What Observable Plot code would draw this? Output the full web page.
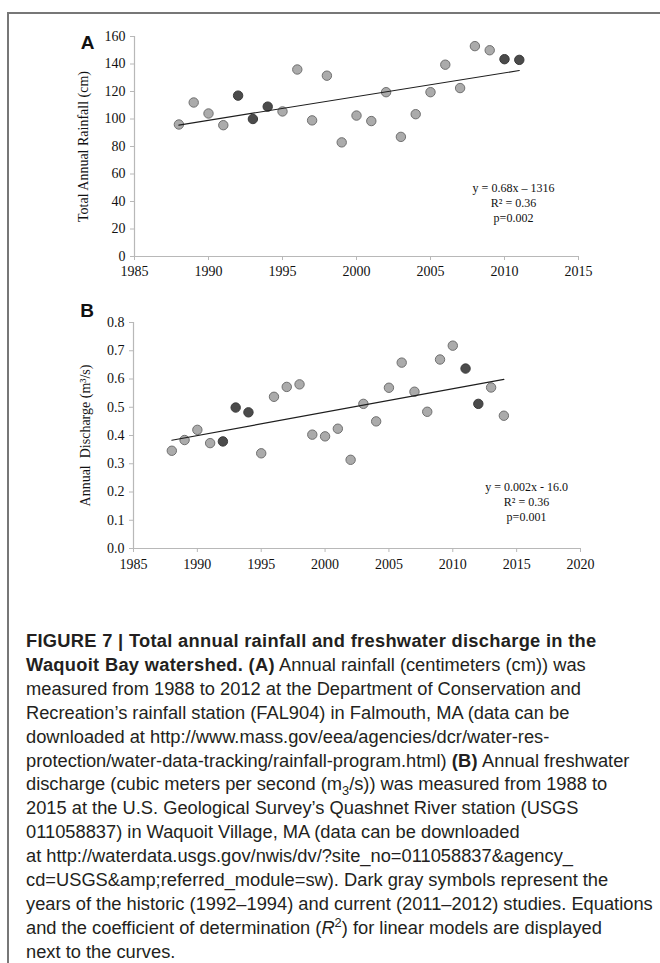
<!DOCTYPE html>
<html>
<head>
<meta charset="utf-8">
<script src="https://cdn.jsdelivr.net/npm/d3@7"></script>
<script src="https://cdn.jsdelivr.net/npm/@observablehq/plot@0.6"></script>
<style>
  html, body { margin: 0; padding: 0; background: #fff; }
  #page { position: relative; width: 660px; height: 963px; overflow: hidden; background: #fff; }
  #frame { position: absolute; left: 7px; top: 12px; width: 700px; height: 1000px;
           border-left: 2px solid #777; border-top: 2px solid #777; }
  .panel { position: absolute; left: 0; width: 660px; }
  #caption { position: absolute; left: 26px; top: 629px; font-family: "Liberation Sans", Arial, sans-serif;
             font-size: 18.3px; line-height: 23.9px; color: #231f20; white-space: nowrap; }
  #caption b { font-weight: bold; letter-spacing: 0.3px; }
  #caption sub, #caption sup { font-size: 0.7em; line-height: 0; }
</style>
</head>
<body>
<div id="page">
  <div id="frame"></div>
  <div id="panelA" class="panel" style="top:0px"></div>
  <div id="panelB" class="panel" style="top:290px"></div>
  <div id="caption">
    <div><b>FIGURE 7 | Total annual rainfall and freshwater discharge in the</b></div>
    <div><b>Waquoit Bay watershed. (A)</b> Annual rainfall (centimeters (cm)) was</div>
    <div>measured from 1988 to 2012 at the Department of Conservation and</div>
    <div>Recreation’s rainfall station (FAL904) in Falmouth, MA (data can be</div>
    <div>downloaded at http://www.mass.gov/eea/agencies/dcr/water-res-</div>
    <div>protection/water-data-tracking/rainfall-program.html) <b>(B)</b> Annual freshwater</div>
    <div>discharge (cubic meters per second (m<sub>3</sub>/s)) was measured from 1988 to</div>
    <div>2015 at the U.S. Geological Survey’s Quashnet River station (USGS</div>
    <div>011058837) in Waquoit Village, MA (data can be downloaded</div>
    <div>at http://waterdata.usgs.gov/nwis/dv/?site_no=011058837&amp;agency_</div>
    <div>cd=USGS&amp;amp;referred_module=sw). Dark gray symbols represent the</div>
    <div>years of the historic (1992–1994) and current (2011–2012) studies. Equations</div>
    <div>and the coefficient of determination (<i>R</i><sup>2</sup>) for linear models are displayed</div>
    <div>next to the curves.</div>
  </div>
</div>
<script>
// ---------- Panel A data ----------
const yearsA = [1988,1989,1990,1991,1992,1993,1994,1995,1996,1997,1998,1999,
                2000,2001,2002,2003,2004,2005,2006,2007,2008,2009,2010,2011];
const rainfall = [96,112,104,95.5,117,100,109,105.5,136,99,131.5,83,
                  102.5,98.5,119.5,87,103.5,119.5,139.5,122.5,153,150,143.5,143];
const darkYearsA = [1992,1993,1994,2010,2011];
const xTicksA = [1985,1990,1995,2000,2005,2010,2015];
const yTicksA = [0,20,40,60,80,100,120,140,160];
const yLabelA = "Total Annual Rainfall (cm)";
const statsA = ["y = 0.68x – 1316", "R² = 0.36", "p=0.002"];

// ---------- Panel B data ----------
const yearsB = [1988,1989,1990,1991,1992,1993,1994,1995,1996,1997,1998,1999,2000,
                2001,2002,2003,2004,2005,2006,2007,2008,2009,2010,2011,2012,2013,2014];
const discharge = [0.346,0.384,0.420,0.373,0.379,0.499,0.482,0.337,0.537,0.572,0.581,0.403,0.397,
                   0.424,0.314,0.512,0.450,0.569,0.658,0.555,0.484,0.669,0.718,0.637,0.512,0.570,0.470];
const darkYearsB = [1992,1993,1994,2011,2012];
const xTicksB = [1985,1990,1995,2000,2005,2010,2015,2020];
const yTicksB = [0,0.1,0.2,0.3,0.4,0.5,0.6,0.7,0.8];
const yLabelB = "Annual\u00a0 Discharge (m³/s)";
const statsB = ["y = 0.002x - 16.0", "R² = 0.36", "p=0.001"];

const LIGHT_FILL = "#ababab", LIGHT_STROKE = "#707070";
const DARK_FILL = "#4b4b4b", DARK_STROKE = "#3a3a3a";
const AXIS_GRAY = "#b8b8b8";
const SERIF = "'Liberation Serif', 'Times New Roman', serif";

function panel({years, values, darkYears, xTicks, yTicks, yLabel, stats, letter,
                xDomain, yDomain, yFormat, height, margins, statsOffset, letterOffset, xPad}) {
  const data = years.map((year, i) => ({year, value: values[i], dark: darkYears.includes(year)}));
  return Plot.plot({
    width: 660, height,
    marginLeft: margins[0], marginRight: margins[1], marginTop: margins[2], marginBottom: margins[3],
    style: {fontFamily: SERIF, fontSize: "14px", color: "#111", background: "transparent", overflow: "visible"},
    x: {domain: xDomain},
    y: {domain: yDomain},
    marks: [
      Plot.ruleX([xDomain[0]], {stroke: AXIS_GRAY, strokeWidth: 1.2}),
      Plot.ruleY([yDomain[0]], {stroke: AXIS_GRAY, strokeWidth: 1.2}),
      Plot.axisX({ticks: xTicks, tickSize: 4, tickPadding: xPad, stroke: AXIS_GRAY, fill: "#111",
                  tickFormat: d => String(d), label: null, fontSize: 14}),
      Plot.axisY({ticks: yTicks, tickSize: 4, tickPadding: 5, stroke: AXIS_GRAY, fill: "#111",
                  tickFormat: yFormat, label: null, fontSize: 14}),
      Plot.text([yLabel], {frameAnchor: "left", text: d => d, rotate: -90, dx: letterOffset[2],
                           textAnchor: "middle", lineAnchor: "middle", fontSize: 14, fill: "#111"}),
      Plot.dot(data, {x: "year", y: "value", r: 4.7,
                      fill: d => d.dark ? DARK_FILL : LIGHT_FILL,
                      stroke: d => d.dark ? DARK_STROKE : LIGHT_STROKE, strokeWidth: 1}),
      Plot.linearRegressionY(data, {x: "year", y: "value", ci: 0, stroke: "#1e1e1e", strokeWidth: 1.2}),
      Plot.text([stats.join("\n")], {frameAnchor: "right", text: d => d, textAnchor: "middle",
                                     lineAnchor: "middle", lineHeight: 1.25,
                                     dx: statsOffset[0], dy: statsOffset[1], fontSize: 12, fill: "#111"}),
      Plot.text([letter], {frameAnchor: "top-left", text: d => d, dx: letterOffset[0], dy: letterOffset[1],
                           textAnchor: "middle", lineAnchor: "middle",
                           fontFamily: "'Liberation Sans', Arial, sans-serif", fontWeight: "bold",
                           fontSize: 19, fill: "#111"})
    ]
  });
}

document.getElementById("panelA").append(panel({
  years: yearsA, values: rainfall, darkYears: darkYearsA, xTicks: xTicksA, yTicks: yTicksA,
  yLabel: yLabelA, stats: statsA, letter: "A",
  xDomain: [xTicksA[0], xTicksA[xTicksA.length - 1]], yDomain: [yTicksA[0], yTicksA[yTicksA.length - 1]],
  yFormat: d => String(d), height: 290, margins: [134, 82, 36, 34],
  statsOffset: [-65, 56], letterOffset: [-47, 6, -51], xPad: 6
}));

document.getElementById("panelB").append(panel({
  years: yearsB, values: discharge, darkYears: darkYearsB, xTicks: xTicksB, yTicks: yTicksB,
  yLabel: yLabelB, stats: statsB, letter: "B",
  xDomain: [xTicksB[0], xTicksB[xTicksB.length - 1]], yDomain: [yTicksB[0], yTicksB[yTicksB.length - 1]],
  yFormat: d3.format(".1f"), height: 295, margins: [133, 80, 32, 37],
  statsOffset: [-54, 66], letterOffset: [-46.5, -12, -48], xPad: 7
}));
</script>
</body>
</html>
